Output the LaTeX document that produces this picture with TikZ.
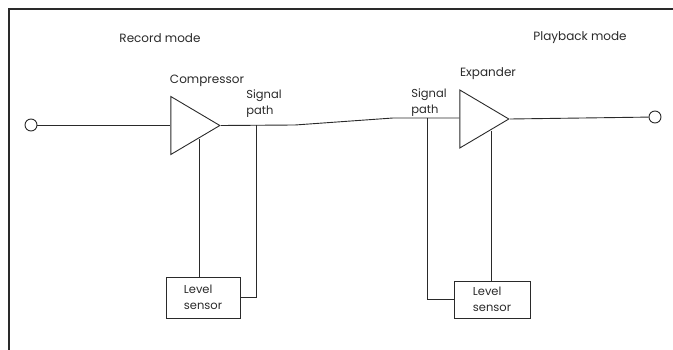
\documentclass[tikz,border=0pt]{standalone}
\usepackage{fontspec}
\setmainfont{Poppins}
\usetikzlibrary{shapes.geometric}
\definecolor{inkline}{HTML}{2A2A2A}
\tikzset{
  amp/.style={draw=inkline,line width=.9pt,isosceles triangle,isosceles triangle stretches,
    minimum width=58pt,minimum height=49pt,inner sep=0pt,anchor=apex},
  level box/.style={draw=inkline,line width=.9pt,align=left,font=\fontsize{11.5}{16}\selectfont,
    text=inkline,inner sep=0pt},
  jack/.style={draw=inkline,fill=white,line width=.9pt,circle,minimum size=12pt,inner sep=0pt},
  path label/.style={align=left,font=\fontsize{11.5}{16}\selectfont,text=inkline},
  mode label/.style={font=\fontsize{12}{14}\selectfont,text=inkline},
  wire/.style={draw=inkline,line width=.9pt},
  frame line/.style={draw=inkline,line width=2pt}
}
\begin{document}
\begin{tikzpicture}[x=1pt,y=-1pt]
  \useasboundingbox (0,0) rectangle (673,350);
  \draw[frame line] (9,350)--(9,9)--(673,9);
  \node[mode label] (recordmode) at (160,38) {Record mode};
  \node[mode label] (playbackmode) at (580,38) {Playback mode};
  % record side
  \node[jack] (injack) at (31,125) {};
  \node[amp] (compressor) at (221,125.5) {};
  \node[mode label] (complabel) at (207,81) {Compressor};
  \node[path label] (pathA) at (264,104) {Signal\\path};
  \node[level box,minimum width=74pt,minimum height=41pt] (levelA) at (203,297.5) {Level\\sensor};
  \coordinate (senseA) at (199,139);
  \coordinate (tapA) at (256,125);
  % playback side
  \node[amp] (expander) at (510,119) {};
  \node[mode label] (explabel) at (488,74) {Expander};
  \node[path label] (pathB) at (429,102.5) {Signal\\path};
  \node[level box,minimum width=76pt,minimum height=37pt] (levelB) at (492,299.5) {Level\\sensor};
  \node[jack] (outjack) at (655,117) {};
  \coordinate (senseB) at (491,131);
  \coordinate (tapB) at (427,118);
  \coordinate (bendA) at (295,125);
  \coordinate (bendB) at (393,118);
  \draw[wire] (injack)--(compressor.left corner |- injack);
  \draw[wire] (compressor.apex)--(bendA)--(bendB)--(expander.left corner |- bendB);
  \draw[wire] (expander.apex)--(outjack);
  \draw[wire] (senseA)--(senseA |- levelA.north);
  \draw[wire] (tapA) |- (levelA.east);
  \draw[wire] (tapB) |- (levelB.west);
  \draw[wire] (senseB)--(senseB |- levelB.north);
\end{tikzpicture}
\end{document}
